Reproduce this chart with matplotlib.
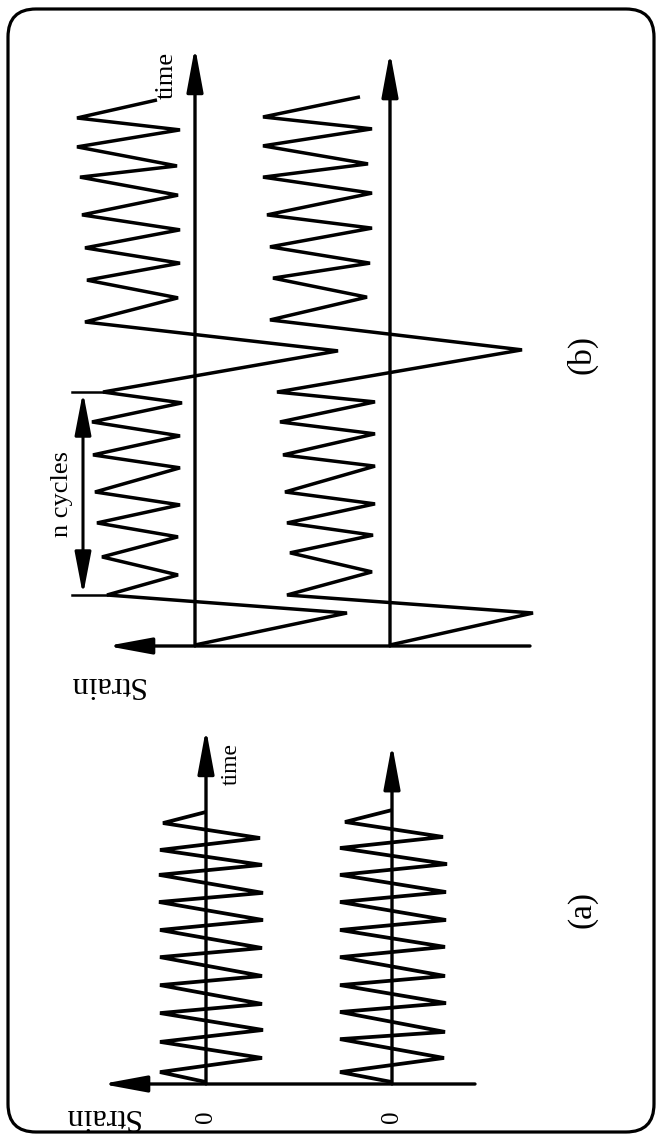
import matplotlib

matplotlib.use("Agg")
import matplotlib.pyplot as plt
from matplotlib.patches import FancyBboxPatch

W, H = 657, 1136
DPI = 100

plt.rcParams["font.family"] = ["Liberation Serif", "DejaVu Serif"]

# Strain histories as turning points (time, strain); time in cycles,
# strain in units of the small-cycle amplitude.

# (a) constant amplitude cycling
A1_TIME = [0.07, 0.43, 0.94, 1.52, 1.95, 2.56, 2.89, 3.57, 3.90, 4.58, 4.91,
           5.56, 5.92, 6.57, 6.90, 7.55, 7.91, 8.45, 8.88, 9.42, 9.82]
A1_STRAIN = [0, 0.92, -1.12, 0.92, -1.14, 0.92, -1.12, 0.92, -1.12, 0.92, -1.12,
             0.92, -1.14, 0.94, -1.14, 0.94, -1.12, 0.92, -1.08, 0.86, 0]

A2_TIME = [0.07, 0.43, 0.94, 1.62, 1.88, 2.60, 2.92, 3.57, 3.90, 4.58, 4.95,
           5.56, 5.92, 6.57, 6.93, 7.55, 7.94, 8.52, 8.92, 9.46, 9.89]
A2_STRAIN = [0, 1.04, -1.04, 1.04, -1.06, 1.04, -1.08, 1.04, -1.06, 1.04, -1.06,
             1.04, -1.08, 1.04, -1.08, 1.04, -1.10, 1.04, -1.02, 0.94, 0]

# (b) blocks of n small cycles broken up by one large cycle
B1_TIME = [0.03, 0.97, 1.50, 2.09, 2.62, 3.21, 3.62, 4.15, 4.53, 5.24, 5.62,
           6.18, 6.59, 7.15, 7.47, 8.68, 9.53, 10.24, 10.76, 11.26, 11.71,
           12.24, 12.68, 13.26, 13.79, 14.12, 14.68, 15.18, 15.53, 16.06]
B1_STRAIN = [0, -3.04, 1.76, 0.34, 1.86, 0.34, 1.96, 0.30, 2.00, 0.30, 2.04,
             0.30, 2.06, 0.26, 1.84, -2.86, 2.20, 0.34, 2.16, 0.30, 2.20,
             0.30, 2.26, 0.34, 2.30, 0.36, 2.36, 0.30, 2.36, 0.76]

B2_TIME = [0.03, 0.97, 1.50, 2.18, 2.74, 3.26, 3.62, 4.18, 4.53, 5.29, 5.62,
           6.24, 6.59, 7.18, 7.47, 8.71, 9.59, 10.26, 10.82, 11.26, 11.74,
           12.29, 12.68, 13.32, 13.79, 14.18, 14.71, 15.21, 15.56, 16.15]
B2_STRAIN = [0, -2.86, 2.06, 0.36, 2.00, 0.34, 2.06, 0.30, 2.10, 0.30, 2.14,
             0.30, 2.20, 0.30, 2.26, -2.64, 2.40, 0.46, 2.34, 0.40, 2.40,
             0.36, 2.46, 0.36, 2.54, 0.44, 2.54, 0.36, 2.54, 0.60]

# turning points that bound the "n cycles" block in the first (b) history
N_BLOCK = (2, 14)

HEAD = "-|>,head_length=2.7,head_width=0.5"
DOUBLE_HEAD = "<|-|>,head_length=2.6,head_width=0.5"


def trace_axes(fig, x0, y0, strain_px, time_px, t_lim):
    # one axes per strain history; strain grows to the left, time upwards
    s_lim = (3.0, -3.0)
    left = x0 - s_lim[0] * strain_px
    right = x0 - s_lim[1] * strain_px
    bottom = y0 - t_lim[0] * time_px
    top = y0 - t_lim[1] * time_px
    ax = fig.add_axes([left / W, 1 - bottom / H, (right - left) / W, (bottom - top) / H])
    ax.set_xlim(*s_lim)
    ax.set_ylim(*t_lim)
    ax.axis("off")
    ax.patch.set_alpha(0)
    return ax


def arrow(ax, start, end, style=HEAD, lw=2.3):
    ax.annotate("", xy=end, xytext=start, annotation_clip=False,
                arrowprops=dict(arrowstyle=style, color="black", lw=lw,
                                shrinkA=0, shrinkB=0, mutation_scale=10))


def draw_trace(ax, time, strain, t_tip, lw):
    ax.plot(strain, time, color="black", lw=lw, solid_joinstyle="miter",
            solid_capstyle="butt", clip_on=False)
    arrow(ax, (0, 0), (0, t_tip), lw=2.4)


fig = plt.figure(figsize=(W / DPI, H / DPI), dpi=DPI)

# panel (a)
a1 = trace_axes(fig, 206, 1084, 50, 27.7, (-2.0, 14.0))
a2 = trace_axes(fig, 392, 1084, 50, 27.7, (-2.0, 14.0))
draw_trace(a1, A1_TIME, A1_STRAIN, 12.82, 2.7)
draw_trace(a2, A2_TIME, A2_STRAIN, 12.27, 2.7)
arrow(a1, (-5.38, 0), (2.08, 0), lw=2.4)
a1.text(-0.5, 11.55, "time", rotation=90, ha="center", va="center", fontsize=17)
a1.text(2.1, -1.19, "Strain", rotation=180, ha="center", va="center", fontsize=23)
for ax in (a1, a2):
    ax.text(0, -1.19, "0", rotation=90, ha="center", va="center", fontsize=18)

# panel (b)
b1 = trace_axes(fig, 195, 646, 50, 34, (-2.0, 18.5))
b2 = trace_axes(fig, 390, 646, 50, 34, (-2.0, 18.5))
draw_trace(b1, B1_TIME, B1_STRAIN, 17.62, 2.5)
draw_trace(b2, B2_TIME, B2_STRAIN, 17.47, 2.5)
arrow(b1, (-6.7, 0), (1.76, 0), lw=2.4)
b1.text(0.56, 16.79, "time", rotation=90, ha="center", va="center", fontsize=19)
b1.text(1.78, -1.12, "Strain", rotation=180, ha="center", va="center", fontsize=23)

# extent of the n small cycles
i0, i1 = N_BLOCK
t0, t1 = B1_TIME[i0], B1_TIME[i1]
for i in N_BLOCK:
    b1.plot([B1_STRAIN[i], 2.46], [B1_TIME[i], B1_TIME[i]], color="black",
            lw=1.8, clip_on=False)
arrow(b1, (2.24, t0), (2.24, t1), style=DOUBLE_HEAD, lw=2.2)
b1.text(2.66, (t0 + t1) / 2, "n cycles", rotation=90, ha="center", va="center",
        fontsize=19)

fig.text(582 / W, 1 - 910 / H, "(a)", rotation=90, ha="center", va="center", fontsize=24)
fig.text(582 / W, 1 - 355 / H, "(b)", rotation=90, ha="center", va="center", fontsize=24)

# rounded frame round both panels
frame = FancyBboxPatch((0.08, (H - 1132) / DPI), (654 - 8) / DPI, (1132 - 9) / DPI,
                       boxstyle="round,pad=0,rounding_size=0.28",
                       transform=fig.dpi_scale_trans, facecolor="none",
                       edgecolor="black", lw=2.3)
fig.add_artist(frame)

fig.savefig("out.png", dpi=DPI)
